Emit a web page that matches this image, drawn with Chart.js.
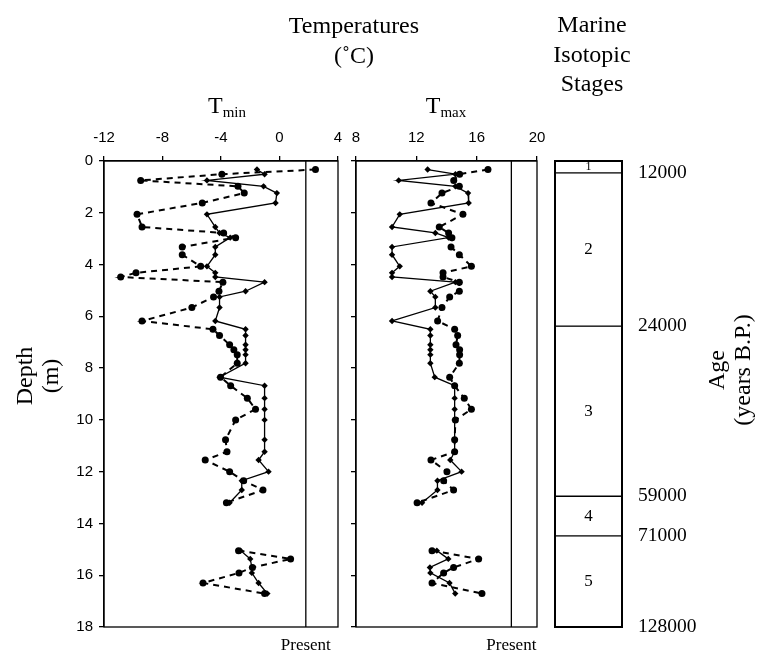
<!DOCTYPE html>
<html>
<head>
<meta charset="utf-8">
<script src="https://cdn.jsdelivr.net/npm/chart.js@4.4.0/dist/chart.umd.min.js"></script>
<style>
    html, body { margin: 0; padding: 0; background: #fff; }
    #wrap { position: relative; width: 757px; height: 655px; overflow: hidden;
            font-family: "Liberation Serif", "Times New Roman", serif; color: #000; }
    canvas { position: absolute; left: 0; top: 0; }
    .lbl { position: absolute; text-align: center; font-size: 24px; white-space: nowrap; }
    .rot { position: absolute; width: 200px; height: 52px; text-align: center; font-size: 24px;
           line-height: 26px; white-space: nowrap; transform: rotate(-90deg); }
    sub { font-size: 15px; vertical-align: -4px; line-height: 0; }
</style>
</head>
<body>
<div id="wrap">
    <canvas id="tmin-chart" width="757" height="655"></canvas>
    <canvas id="tmax-chart" width="757" height="655"></canvas>
    <canvas id="stages-chart" width="757" height="655"></canvas>

    <div class="lbl" style="left:254px; top:10px; width:200px; line-height:30px;">Temperatures<br>(˚C)</div>
    <div class="lbl" style="left:492px; top:10px; width:200px; line-height:29.5px;">Marine<br>Isotopic<br>Stages</div>
    <div class="lbl" style="left:177px; top:90px; width:100px; line-height:30px;">T<sub>min</sub></div>
    <div class="lbl" style="left:396px; top:90px; width:100px; line-height:30px;">T<sub>max</sub></div>
    <div class="rot" style="left:-63px; top:350px;">Depth<br>(m)</div>
    <div class="rot" style="left:629px; top:344px;">Age<br>(years B.P.)</div>
</div>

<script>
// profundidade das amostras (m); null = intervalo sem amostras
const depths = [0.33, 0.51, 0.75, 0.98, 1.24, 1.62, 2.06, 2.55, 2.78, 2.96,
    3.32, 3.62, 4.07, 4.32, 4.48, 4.68, 5.03, 5.25, 5.66, 6.18,
    6.50, 6.74, 7.10, 7.29, 7.48, 7.81, 8.35, 8.68, 9.16, 9.59,
    10.00, 10.77, 11.23, 11.55, 12.00, 12.35, 12.71, 13.20, null,
    15.05, 15.37, 15.70, 15.91, 16.30, 16.71];

// Tmin - linha contínua (losangos) e tracejada (círculos)
const tminSolid = [-1.54, -1.02, -4.96, -1.09, -0.18, -0.27, -4.96, -4.39, -4.10, -3.37,
    -4.39, -4.39, -4.96, -4.39, -4.39, -1.02, -2.32, -4.10, -4.10, -4.39,
    -2.32, -2.32, -2.32, -2.32, -2.32, -2.32, -4.10, -1.02, -1.02, -1.02,
    -1.02, -1.02, -1.02, -1.43, -0.75, -2.58, -2.58, -3.41, null,
    -2.66, -2.00, -1.89, -1.89, -1.43, -0.83];
const tminDashed = [2.46, -3.94, -9.49, -2.84, -2.41, -5.28, -9.74, -9.40, -3.82, -3.00,
    -6.65, -6.65, -5.39, -9.81, -10.86, -3.87, -4.14, -4.51, -5.99, -9.40,
    -4.55, -4.10, -3.41, -3.12, -2.89, -2.89, -4.03, -3.34, -2.20, -1.64,
    -3.00, -3.69, -3.59, -5.08, -3.41, -2.45, -1.13, -3.63, null,
    -2.80, 0.76, -1.85, -2.77, -5.23, -1.02];

// Tmax
const tmaxSolid = [12.75, 14.59, 10.83, 14.59, 15.43, 15.47, 10.90, 10.39, 13.26, 14.14,
    10.39, 10.39, 10.90, 10.39, 10.39, 14.59, 12.93, 13.26, 13.26, 10.39,
    12.93, 12.93, 12.93, 12.93, 12.93, 12.93, 13.22, 14.54, 14.54, 14.54,
    14.54, 14.54, 14.54, 14.25, 15.00, 13.40, 13.40, 12.38, null,
    13.36, 14.12, 12.90, 12.93, 14.20, 14.58];
const tmaxDashed = [16.75, 14.87, 14.48, 14.85, 13.70, 12.97, 15.09, 13.52, 14.14, 14.36,
    14.30, 14.85, 15.65, 13.77, 13.77, 14.85, 14.85, 14.21, 13.70, 13.41,
    14.54, 14.74, 14.63, 14.87, 14.87, 14.85, 14.21, 14.54, 15.18, 15.65,
    14.59, 14.54, 14.54, 12.97, 14.03, 13.81, 14.47, 12.05, null,
    13.04, 16.13, 14.47, 13.81, 13.04, 16.35];

// valores atuais (linha "Present")
const presentTmin = 1.8;
const presentTmax = 18.3;

// eixos
const tminTicks = [-12, -8, -4, 0, 4];
const tmaxTicks = [8, 12, 16, 20];
const depthTicks = [0, 2, 4, 6, 8, 10, 12, 14, 16, 18];

// estágios isotópicos marinhos
const stageNames = ['1', '2', '3', '4', '5'];
const stageBounds = [0, 0.46, 6.38, 12.95, 14.48, 18];
const stageAges = ['12000', '24000', '59000', '71000', '128000'];

Chart.defaults.color = '#000';
Chart.defaults.font.family = '"Liberation Sans", Arial, sans-serif';

// moldura em volta da área do gráfico
const framePlugin = {
    id: 'frame',
    afterDatasetsDraw(chart, args, opts) {
        const { ctx, chartArea: a } = chart;
        ctx.save();
        ctx.strokeStyle = '#000';
        ctx.lineWidth = opts.width || 1.3;
        ctx.strokeRect(a.left, a.top, a.right - a.left, a.bottom - a.top);
        ctx.restore();
    }
};

// número do estágio no meio de cada caixa
const stageLabelPlugin = {
    id: 'stageLabels',
    afterDatasetsDraw(chart) {
        const ctx = chart.ctx;
        ctx.save();
        ctx.fillStyle = '#000';
        ctx.textAlign = 'center';
        ctx.textBaseline = 'middle';
        chart.data.datasets.forEach((ds, i) => {
            const bar = chart.getDatasetMeta(i).data[0];
            const h = Math.abs(bar.base - bar.y);
            ctx.font = (h < 20 ? 12 : 17) + 'px "Liberation Serif"';
            ctx.fillText(ds.label, bar.x, (bar.y + bar.base) / 2);
        });
        ctx.restore();
    }
};

function toPoints(values) {
    return values.map((v, i) => ({ x: v, y: v === null ? null : depths[i] }));
}

function makeTempChart(canvasId, cfg) {
    return new Chart(document.getElementById(canvasId), {
        type: 'scatter',
        data: {
            datasets: [
                {
                    data: toPoints(cfg.solid),
                    showLine: true,
                    spanGaps: false,
                    borderColor: '#000',
                    backgroundColor: '#000',
                    borderWidth: 1.3,
                    pointStyle: 'rectRot',
                    pointRadius: 3.2,
                    pointBorderWidth: 0
                },
                {
                    data: toPoints(cfg.dashed),
                    showLine: true,
                    spanGaps: false,
                    borderColor: '#000',
                    backgroundColor: '#000',
                    borderWidth: 2,
                    borderDash: [6, 5],
                    pointStyle: 'circle',
                    pointRadius: 3.5,
                    pointBorderWidth: 0
                },
                {
                    data: [{ x: cfg.present, y: 0 }, { x: cfg.present, y: 18 }],
                    showLine: true,
                    borderColor: '#000',
                    borderWidth: 1.3,
                    pointRadius: 0
                }
            ]
        },
        options: {
            responsive: false,
            animation: false,
            events: [],
            layout: { padding: { left: cfg.left - cfg.yWidth, right: 757 - cfg.right, top: 161 - 40, bottom: 0 } },
            plugins: {
                legend: { display: false },
                tooltip: { enabled: false },
                frame: { width: 1.3 }
            },
            scales: {
                x: {
                    type: 'linear',
                    position: 'top',
                    min: cfg.min,
                    max: cfg.max,
                    afterBuildTicks: s => { s.ticks = cfg.ticks.map(v => ({ value: v })); },
                    afterFit: s => { s.height = 40; },
                    ticks: { font: { size: 15 }, padding: 9, maxRotation: 0, autoSkip: false },
                    grid: { drawOnChartArea: false, tickLength: 5, color: '#000', lineWidth: 1.3 },
                    border: { color: '#000', width: 1.3 }
                },
                present: {
                    axis: 'x',
                    type: 'linear',
                    position: 'bottom',
                    min: cfg.min,
                    max: cfg.max,
                    afterBuildTicks: s => { s.ticks = [{ value: cfg.present }]; },
                    afterFit: s => { s.height = 28; },
                    ticks: {
                        callback: () => 'Present',
                        font: { family: '"Liberation Serif", serif', size: 17 },
                        padding: 8,
                        maxRotation: 0
                    },
                    grid: { display: false, drawTicks: false },
                    border: { display: false }
                },
                y: {
                    type: 'linear',
                    reverse: true,
                    min: 0,
                    max: 18,
                    afterBuildTicks: s => { s.ticks = depthTicks.map(v => ({ value: v })); },
                    afterFit: s => { s.width = cfg.yWidth; },
                    ticks: { display: cfg.yLabels, font: { size: 15 }, padding: 6, autoSkip: false },
                    grid: { drawOnChartArea: false, tickLength: 5, color: '#000', lineWidth: 1.3 },
                    border: { color: '#000', width: 1.3 }
                }
            }
        },
        plugins: [framePlugin]
    });
}

makeTempChart('tmin-chart', {
    solid: tminSolid, dashed: tminDashed, present: presentTmin,
    min: -12, max: 4, ticks: tminTicks,
    left: 104, right: 338, yWidth: 60, yLabels: true
});

makeTempChart('tmax-chart', {
    solid: tmaxSolid, dashed: tmaxDashed, present: presentTmax,
    min: 8, max: 20, ticks: tmaxTicks,
    left: 356, right: 537, yWidth: 20, yLabels: false
});

// coluna dos estágios
new Chart(document.getElementById('stages-chart'), {
    type: 'bar',
    data: {
        labels: ['stages'],
        datasets: stageNames.map((name, i) => ({
            label: name,
            data: [[stageBounds[i], stageBounds[i + 1]]],
            backgroundColor: '#fff',
            borderColor: '#000',
            borderWidth: 1,
            borderSkipped: false,
            grouped: false,
            barPercentage: 1,
            categoryPercentage: 1
        }))
    },
    options: {
        responsive: false,
        animation: false,
        events: [],
        layout: { padding: { left: 555, right: 757 - 622 - 100, top: 161, bottom: 28 } },
        plugins: {
            legend: { display: false },
            tooltip: { enabled: false },
            frame: { width: 2 }
        },
        scales: {
            x: { display: false },
            y: { display: false, reverse: true, min: 0, max: 18 },
            age: {
                axis: 'y',
                type: 'linear',
                position: 'right',
                reverse: true,
                min: 0,
                max: 18,
                afterBuildTicks: s => { s.ticks = stageBounds.slice(1).map(v => ({ value: v })); },
                afterFit: s => { s.width = 100; },
                ticks: {
                    callback: (v, i) => stageAges[i],
                    font: { family: '"Liberation Serif", serif', size: 19.5 },
                    padding: 16,
                    autoSkip: false
                },
                grid: { display: false, drawTicks: false },
                border: { display: false }
            }
        }
    },
    plugins: [framePlugin, stageLabelPlugin]
});
</script>
</body>
</html>
